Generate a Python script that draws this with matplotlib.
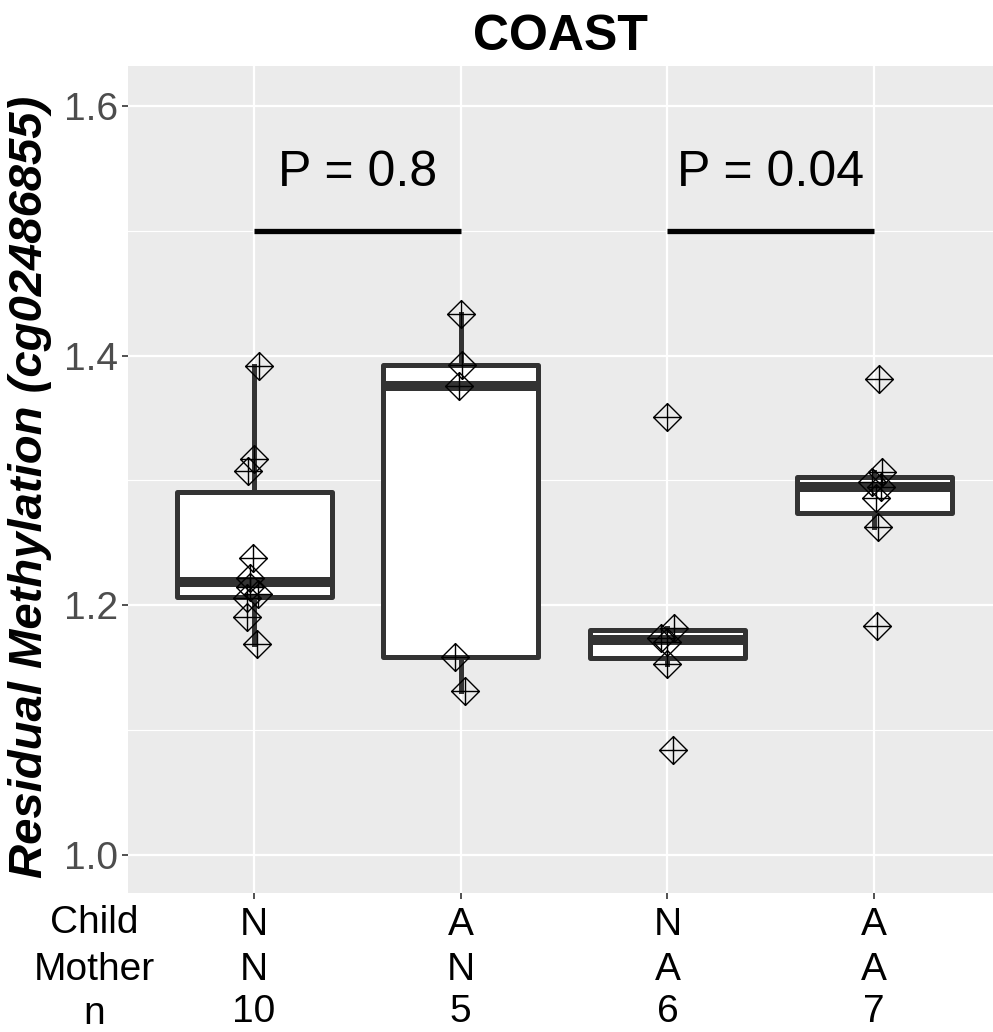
import numpy as np
import matplotlib.pyplot as plt
from matplotlib.path import Path
from matplotlib.transforms import blended_transform_factory

plt.rcParams['font.family'] = ['Liberation Sans', 'DejaVu Sans']

# groups: child / mother status and group size
child = ['N', 'A', 'N', 'A']
mother = ['N', 'N', 'A', 'A']
counts = ['10', '5', '6', '7']

# residual methylation, with the jitter seen in x
nn_vals = [1.392, 1.317, 1.308, 1.238, 1.222, 1.215, 1.209, 1.206, 1.191, 1.169]
nn_jit = [0.026, 0.0, -0.03, -0.006, -0.02, -0.02, 0.02, -0.035, -0.035, 0.016]
an_vals = [1.433, 1.3925, 1.3757, 1.159, 1.1316]
an_jit = [0.0, 0.005, -0.008, -0.028, 0.021]
na_vals = [1.3506, 1.182, 1.174, 1.171, 1.153, 1.084]
na_jit = [-0.003, 0.034, -0.03, 0.0, 0.0, 0.026]
aa_vals = [1.381, 1.307, 1.299, 1.295, 1.2857, 1.263, 1.1835]
aa_jit = [0.024, 0.038, -0.011, 0.032, 0.008, 0.018, 0.013]

# p values for pairs (1,2) and (3,4)
pvals = ['P = 0.8', 'P = 0.04']
pairs = [(1, 2), (3, 4)]
bracket_y = 1.5

groups = [nn_vals, an_vals, na_vals, aa_vals]
jitters = [nn_jit, an_jit, na_jit, aa_jit]
pos = [1, 2, 3, 4]

fig = plt.figure(figsize=(9.93, 10.32), dpi=100)
ax = fig.add_axes([128 / 993, 1 - 893 / 1032, 865 / 993, 827 / 1032])
ax.set_facecolor('#EBEBEB')
for s in ax.spines.values():
    s.set_visible(False)

dark = '#333333'
ax.boxplot(groups, positions=pos, widths=0.75, showfliers=False, showcaps=False,
           patch_artist=True,
           boxprops=dict(facecolor='white', edgecolor=dark, linewidth=3.6, joinstyle='round'),
           whiskerprops=dict(color=dark, linewidth=3.6),
           medianprops=dict(color=dark, linewidth=7.2, solid_capstyle='butt'),
           zorder=2)

# diamond with a plus inside (R pch 9)
verts = [(-1, 0), (0, 1), (1, 0), (0, -1), (-1, 0), (-1, 0), (1, 0), (0, 1), (0, -1)]
codes = [Path.MOVETO, Path.LINETO, Path.LINETO, Path.LINETO, Path.CLOSEPOLY,
         Path.MOVETO, Path.LINETO, Path.MOVETO, Path.LINETO]
diamond_plus = Path(verts, codes)

for p, vals, jit in zip(pos, groups, jitters):
    xs = np.array(jit) + p
    ax.plot(xs, vals, linestyle='none', marker=diamond_plus, markersize=20,
            mfc='none', mec='black', mew=1.0, zorder=3)

for (a, b), txt in zip(pairs, pvals):
    ax.plot([a, b], [bracket_y, bracket_y], color='black', lw=3.8,
            solid_capstyle='butt', zorder=3)
    ax.text((a + b) / 2, 1.536, txt, ha='center', va='baseline', fontsize=36)

ax.set_xlim(0.39, 4.575)
ax.set_ylim(0.9696, 1.632)
ax.set_yticks([1.0, 1.2, 1.4, 1.6])
ax.set_yticklabels(['1.0', '1.2', '1.4', '1.6'])
ax.set_yticks([1.1, 1.3, 1.5], minor=True)
ax.set_xticks(pos)
ax.set_xticklabels(['', '', '', ''])
ax.grid(True, which='major', color='white', lw=1.6)
ax.grid(True, which='minor', axis='y', color='white', lw=0.8)
ax.set_axisbelow(True)
ax.tick_params(axis='both', which='major', length=4.5, width=1.2, color=dark,
               labelsize=28, labelcolor='#4D4D4D', pad=2.5)
ax.tick_params(axis='y', which='minor', length=0)

trans = blended_transform_factory(ax.transData, ax.transAxes)
for p, c, m, n in zip(pos, child, mother, counts):
    ax.text(p, (893 - 935) / 827, c, transform=trans, ha='center', va='baseline', fontsize=28)
    ax.text(p, (893 - 980) / 827, m, transform=trans, ha='center', va='baseline', fontsize=28)
    ax.text(p, (893 - 1022) / 827, n, transform=trans, ha='center', va='baseline', fontsize=28)

for lab, base in zip(['Child', 'Mother', 'n'], [933, 980, 1024]):
    fig.text(94 / 993, 1 - base / 1032, lab, ha='center', va='baseline', fontsize=28)

fig.text(30 / 993, 1 - 487 / 1032, 'Residual Methylation (cg02486855)', rotation=90,
         ha='center', va='center', fontsize=34, fontweight='bold', fontstyle='italic')
fig.text(560 / 993, 1 - 50 / 1032, 'COAST', ha='center', va='baseline',
         fontsize=36, fontweight='bold')

fig.savefig('out.png', dpi=100)
